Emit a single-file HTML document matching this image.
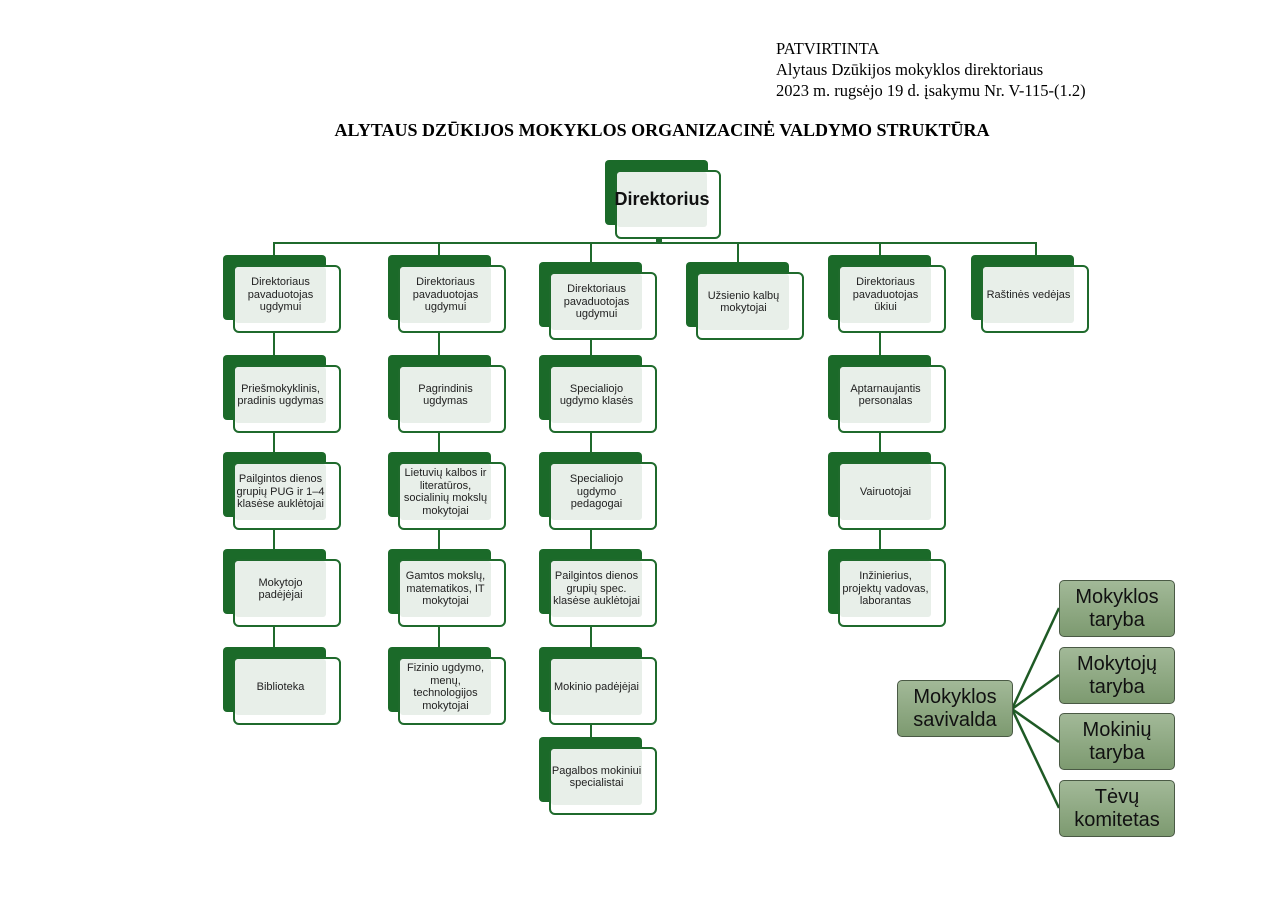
<!DOCTYPE html>
<html><head><meta charset="utf-8"><style>
body{margin:0;width:1280px;height:905px;background:#fff;position:relative;overflow:hidden;font-family:"Liberation Sans",sans-serif}
.hd{position:absolute;left:776px;font-family:"Liberation Serif",serif;font-size:16.5px;color:#000}
.b{position:absolute;width:103px;height:65px;background:#1b6a29;border-radius:4px}
.f{position:absolute;width:104px;height:64px;border:2px solid #1f6a2c;background:#fff;border-radius:6px}
.i{position:absolute;left:0;top:0;width:91px;height:56px;background:#e8efe9;border-radius:3px;display:flex;align-items:center;justify-content:center;text-align:center;font-size:11px;line-height:12.5px;color:#222}
.v{position:absolute;width:2px;background:#1f6a2c}
.s{position:absolute;width:114px;height:55px;border:1px solid #4a5a45;border-radius:5px;background:linear-gradient(#a2b998,#7d9a70);display:flex;align-items:center;justify-content:center;text-align:center;font-size:20px;line-height:23px;color:#111}
</style></head><body>
<div class="hd" style="top:39px">PATVIRTINTA</div>
<div class="hd" style="top:60px">Alytaus Dzūkijos mokyklos direktoriaus</div>
<div class="hd" style="top:81px">2023 m. rugsėjo 19 d. įsakymu Nr. V-115-(1.2)</div>
<div style="position:absolute;left:0;width:1324px;top:120px;text-align:center;font-family:'Liberation Serif',serif;font-weight:bold;font-size:18px">ALYTAUS DZŪKIJOS MOKYKLOS ORGANIZACINĖ VALDYMO STRUKTŪRA</div>

<div style="position:absolute;left:273px;top:242px;width:764px;height:2px;background:#1f6a2c"></div>
<div class="v" style="left:656px;top:230px;height:14px;width:6px"></div>
<div class="v" style="left:273px;top:242px;height:14px"></div>
<div class="v" style="left:438px;top:242px;height:14px"></div>
<div class="v" style="left:590px;top:242px;height:20px"></div>
<div class="v" style="left:737px;top:242px;height:20px"></div>
<div class="v" style="left:879px;top:242px;height:14px"></div>
<div class="v" style="left:1035px;top:242px;height:14px"></div>
<div class="v" style="left:273px;top:320px;height:330px"></div>
<div class="v" style="left:438px;top:320px;height:330px"></div>
<div class="v" style="left:590px;top:327px;height:412px"></div>
<div class="v" style="left:879px;top:320px;height:232px"></div>

<div class="b" style="left:605px;top:160px;width:103px;height:65px"></div>
<div class="f" style="left:615px;top:170px;width:102px;height:65px"><div class="i" style="width:90px;height:55px;font-size:18px;font-weight:bold;color:#111">Direktorius</div></div>

<div class="b" style="left:223px;top:255px"></div><div class="f" style="left:233px;top:265px"><div class="i">Direktoriaus pavaduotojas ugdymui</div></div>
<div class="b" style="left:223px;top:355px"></div><div class="f" style="left:233px;top:365px"><div class="i">Priešmokyklinis, pradinis ugdymas</div></div>
<div class="b" style="left:223px;top:452px"></div><div class="f" style="left:233px;top:462px"><div class="i">Pailgintos dienos grupių PUG ir 1–4 klasėse auklėtojai</div></div>
<div class="b" style="left:223px;top:549px"></div><div class="f" style="left:233px;top:559px"><div class="i">Mokytojo padėjėjai</div></div>
<div class="b" style="left:223px;top:647px"></div><div class="f" style="left:233px;top:657px"><div class="i">Biblioteka</div></div>

<div class="b" style="left:388px;top:255px"></div><div class="f" style="left:398px;top:265px"><div class="i">Direktoriaus pavaduotojas ugdymui</div></div>
<div class="b" style="left:388px;top:355px"></div><div class="f" style="left:398px;top:365px"><div class="i">Pagrindinis ugdymas</div></div>
<div class="b" style="left:388px;top:452px"></div><div class="f" style="left:398px;top:462px"><div class="i">Lietuvių kalbos ir literatūros, socialinių mokslų mokytojai</div></div>
<div class="b" style="left:388px;top:549px"></div><div class="f" style="left:398px;top:559px"><div class="i">Gamtos mokslų, matematikos, IT mokytojai</div></div>
<div class="b" style="left:388px;top:647px"></div><div class="f" style="left:398px;top:657px"><div class="i">Fizinio ugdymo, menų, technologijos mokytojai</div></div>

<div class="b" style="left:539px;top:262px"></div><div class="f" style="left:549px;top:272px"><div class="i">Direktoriaus pavaduotojas ugdymui</div></div>
<div class="b" style="left:539px;top:355px"></div><div class="f" style="left:549px;top:365px"><div class="i">Specialiojo ugdymo klasės</div></div>
<div class="b" style="left:539px;top:452px"></div><div class="f" style="left:549px;top:462px"><div class="i">Specialiojo ugdymo pedagogai</div></div>
<div class="b" style="left:539px;top:549px"></div><div class="f" style="left:549px;top:559px"><div class="i">Pailgintos dienos grupių spec. klasėse auklėtojai</div></div>
<div class="b" style="left:539px;top:647px"></div><div class="f" style="left:549px;top:657px"><div class="i">Mokinio padėjėjai</div></div>
<div class="b" style="left:539px;top:737px"></div><div class="f" style="left:549px;top:747px"><div class="i">Pagalbos mokiniui specialistai</div></div>

<div class="b" style="left:686px;top:262px"></div><div class="f" style="left:696px;top:272px"><div class="i">Užsienio kalbų mokytojai</div></div>

<div class="b" style="left:828px;top:255px"></div><div class="f" style="left:838px;top:265px"><div class="i">Direktoriaus pavaduotojas ūkiui</div></div>
<div class="b" style="left:828px;top:355px"></div><div class="f" style="left:838px;top:365px"><div class="i">Aptarnaujantis personalas</div></div>
<div class="b" style="left:828px;top:452px"></div><div class="f" style="left:838px;top:462px"><div class="i">Vairuotojai</div></div>
<div class="b" style="left:828px;top:549px"></div><div class="f" style="left:838px;top:559px"><div class="i">Inžinierius, projektų vadovas, laborantas</div></div>

<div class="b" style="left:971px;top:255px"></div><div class="f" style="left:981px;top:265px"><div class="i">Raštinės vedėjas</div></div>

<svg style="position:absolute;left:0;top:0" width="1280" height="905"><g stroke="#1f5a25" stroke-width="2.5" fill="none">
<line x1="1012" y1="709" x2="1059" y2="608"/><line x1="1012" y1="709" x2="1059" y2="675"/><line x1="1012" y1="709" x2="1059" y2="742"/><line x1="1012" y1="709" x2="1059" y2="808"/></g></svg>
<div class="s" style="left:897px;top:680px">Mokyklos savivalda</div>
<div class="s" style="left:1059px;top:580px">Mokyklos taryba</div>
<div class="s" style="left:1059px;top:647px">Mokytojų taryba</div>
<div class="s" style="left:1059px;top:713px">Mokinių taryba</div>
<div class="s" style="left:1059px;top:780px">Tėvų komitetas</div>
</body></html>
